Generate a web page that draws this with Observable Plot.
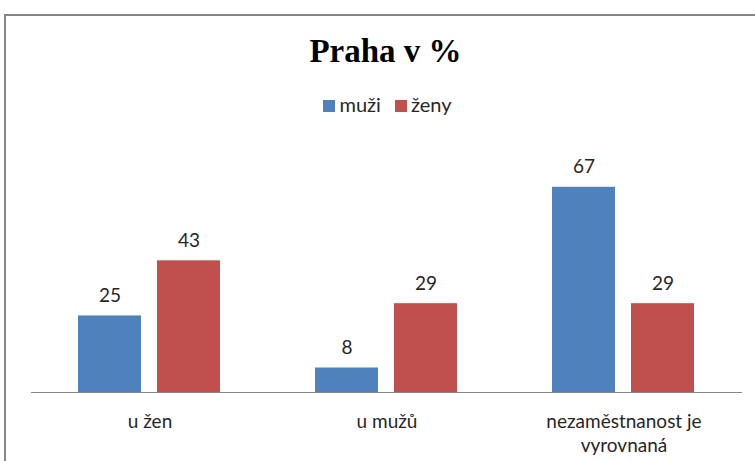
<!DOCTYPE html>
<html>
<head>
<meta charset="utf-8">
<script src="https://cdn.jsdelivr.net/npm/d3@7"></script>
<script src="https://cdn.jsdelivr.net/npm/@observablehq/plot@0.6"></script>
<style>
  html, body { margin: 0; padding: 0; background: #fff; }
  #wrap { position: relative; width: 755px; height: 461px; overflow: hidden; background: #fff; }
  #frame { position: absolute; left: 4px; top: 14px; width: 2000px; height: 2000px;
           border-left: 2px solid #868686; border-top: 2px solid #868686; box-sizing: border-box; }
  #title { position: absolute; left: 0; width: 771px; top: 33px; text-align: center;
           font-family: "Liberation Serif", "Times New Roman", serif; font-weight: bold; font-size: 33px; color: #000; }
  #legend { position: absolute; left: 0; width: 775px; top: 92px; text-align: center;
            font-family: Lato, sans-serif; font-size: 20px; color: #262626; }
  #legend span.item { display: inline-block; margin: 0 7px; }
  #legend span.sw { display: inline-block; width: 12px; height: 12px; margin-right: 4px; vertical-align: 0px; }
  #chart { position: absolute; left: 0; top: 0; }
</style>
</head>
<body>
<div id="wrap">
  <div id="frame"></div>
  <div id="chart"></div>
  <div id="title">Praha v %</div>
  <div id="legend"></div>
</div>
<script>
const categories = ["u žen", "u mužů", "nezaměstnanost je vyrovnaná"];
const categoryLabels = ["u žen", "u mužů", "nezaměstnanost je\nvyrovnaná"];
const series = ["muži", "ženy"];
const muziValues = [25, 8, 67];
const zenyValues = [43, 29, 29];
const colors = ["#4F81BD", "#C0504D"];
const title = "Praha v %";

const data = [];
categories.forEach((c, i) => {
  data.push({category: c, series: series[0], value: muziValues[i]});
  data.push({category: c, series: series[1], value: zenyValues[i]});
});
const labelData = categories.map((c, i) => ({category: c, label: categoryLabels[i]}));

const font = "Lato, sans-serif";

const chart = Plot.plot({
  width: 755,
  height: 461,
  marginLeft: 30,
  marginRight: 12,
  marginTop: 147,
  marginBottom: 69,
  style: {fontFamily: font, background: "transparent", overflow: "visible"},
  fx: {domain: categories, padding: 0, axis: null},
  x: {domain: series, paddingInner: 0.2, paddingOuter: 0.6, axis: null},
  y: {domain: [0, 80], axis: null},
  color: {domain: series, range: colors},
  marks: [
    Plot.barY(data, {fx: "category", x: "series", y: "value", fill: "series"}),
    Plot.ruleY([0], {stroke: "#868686", strokeWidth: 1}),
    Plot.text(data, {fx: "category", x: "series", y: "value", text: d => String(d.value),
      dy: -20, fontSize: 19, fill: "#262626", fontFamily: font}),
    Plot.text(labelData, {fx: "category", text: "label", frameAnchor: "bottom", lineAnchor: "top",
      dy: 18, fontSize: 19, lineHeight: 1.28, fill: "#262626", fontFamily: font})
  ]
});
document.getElementById("chart").appendChild(chart);

document.getElementById("title").textContent = title;
const legend = document.getElementById("legend");
series.forEach((s, i) => {
  const item = document.createElement("span");
  item.className = "item";
  const sw = document.createElement("span");
  sw.className = "sw";
  sw.style.background = colors[i];
  item.appendChild(sw);
  item.appendChild(document.createTextNode(s));
  legend.appendChild(item);
});
</script>
</body>
</html>
